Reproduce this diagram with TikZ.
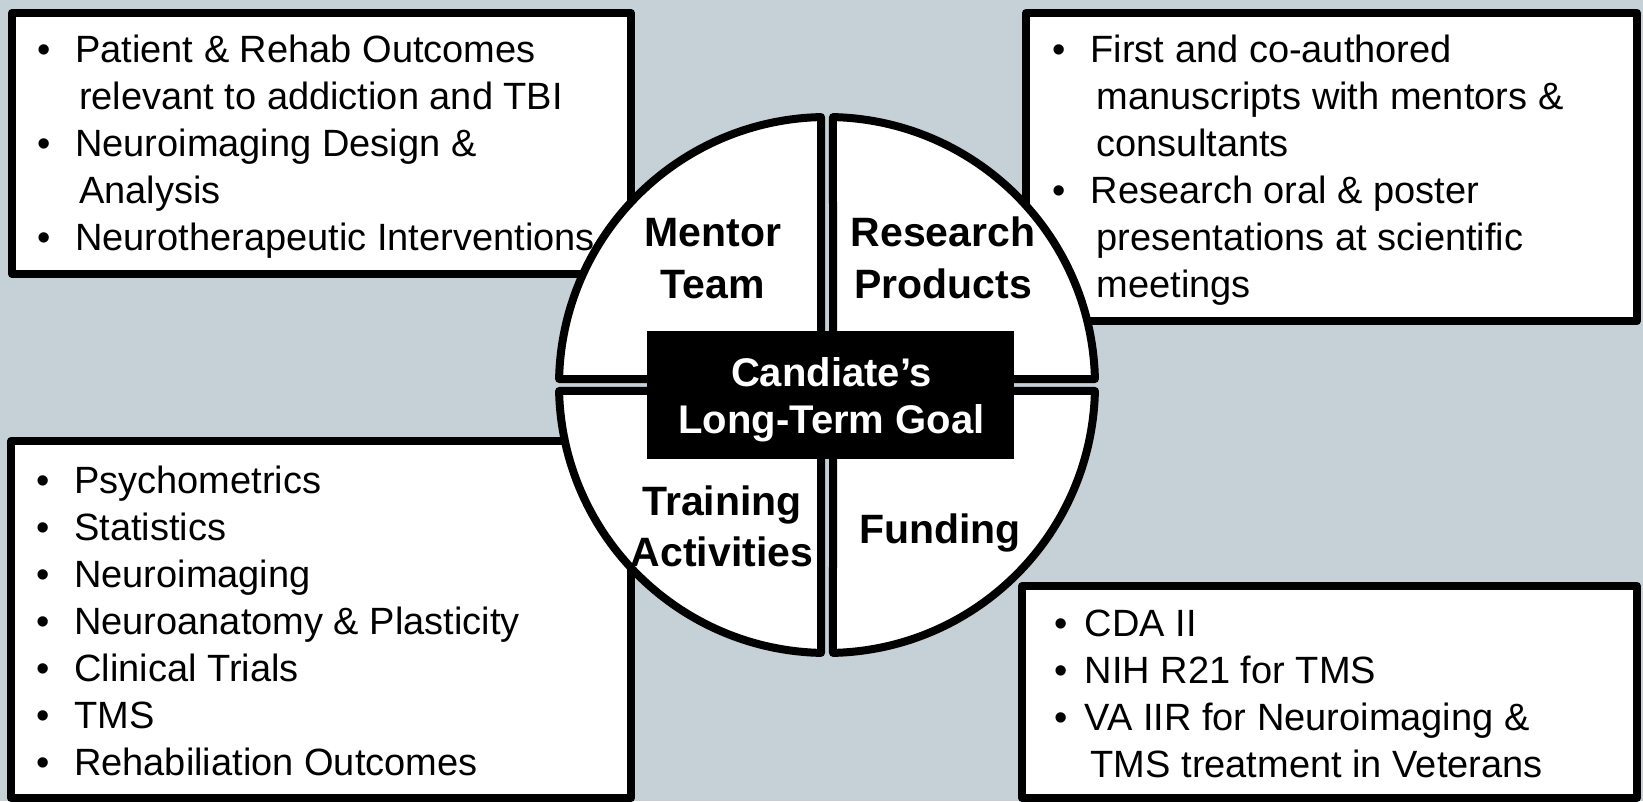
\documentclass[tikz,border=0pt]{standalone}
\usepackage{fontspec}
\setmainfont{Liberation Sans}
\usepackage{tikz}
\usetikzlibrary{calc}
\definecolor{SlateMist}{RGB}{197,208,215}
\newcommand{\itm}[1][38pt]{\makebox[#1][l]{\textbullet}}

\begin{document}
\begin{tikzpicture}[x=1pt,y=1pt,
    listbox/.style={draw=black,line width=8pt,fill=white,line join=round},
    listtext/.style={inner sep=0pt,anchor=base west,font=\fontsize{38}{47}\selectfont},
    quad/.style={draw=black,line width=8pt,fill=white,line join=round},
    quadlabel/.style={inner sep=0pt,anchor=base,font=\bfseries\fontsize{41}{51.5}\selectfont},
    goalbox/.style={fill=black,inner sep=0pt,minimum width=367pt,minimum height=128pt},
    goaltext/.style={inner sep=0pt,anchor=base,text=white,font=\bfseries\fontsize{40}{47}\selectfont}]
  \fill[SlateMist] (0,0) rectangle (1643,801);
  \useasboundingbox (0,0) rectangle (1643,801);

  \draw[listbox] (12,788) rectangle (631,527);
  \draw[listbox] (1026,788) rectangle (1637,480);
  \draw[listbox] (11,360) rectangle (631,3);
  \draw[listbox] (1022,215) rectangle (1637,3);

  \node[listtext] (mentorlist) at (37,738) {\begin{tabular}[t]{@{}l@{}}
    \itm Patient \& Rehab Outcomes\\
    \hspace{42pt}relevant to addiction and TBI\\
    \itm Neuroimaging Design \&\\
    \hspace{42pt}Analysis\\
    \itm Neurotherapeutic Interventions
  \end{tabular}};
  \node[listtext] (productlist) at (1052.5,738) {\begin{tabular}[t]{@{}l@{}}
    \itm First and co-authored\\
    \hspace{44pt}manuscripts with mentors \&\\
    \hspace{44pt}consultants\\
    \itm Research oral \& poster\\
    \hspace{44pt}presentations at scientific\\
    \hspace{44pt}meetings
  \end{tabular}};
  \node[listtext] (traininglist) at (36,307.5) {\begin{tabular}[t]{@{}l@{}}
    \itm Psychometrics\\
    \itm Statistics\\
    \itm Neuroimaging\\
    \itm Neuroanatomy \& Plasticity\\
    \itm Clinical Trials\\
    \itm TMS\\
    \itm Rehabiliation Outcomes
  \end{tabular}};
  \node[listtext] (fundinglist) at (1054.5,165) {\begin{tabular}[t]{@{}l@{}}
    \itm[30pt]CDA II\\
    \itm[30pt]NIH R21 for TMS\\
    \itm[30pt]VA IIR for Neuroimaging \&\\
    \hspace{36pt}TMS treatment in Veterans
  \end{tabular}};

  \coordinate (C) at (827,416);
  \foreach \a in {0,90,180,270}
    \draw[quad,shift={(C)},rotate=\a] (6,6) -- (88.72:268)
      arc[start angle=88.72,end angle=1.28,radius=268] -- cycle;

  \node[goalbox] (goal) at (830.5,406) {};
  \node[goaltext] (goallabel) at (831.5,414.5) {\begin{tabular}[t]{@{}c@{}}
    Candiate’s\\Long-Term Goal\end{tabular}};

  \node[quadlabel] (mentor) at (713,554) {\begin{tabular}[t]{@{}c@{}}Mentor\\Team\end{tabular}};
  \node[quadlabel] (research) at (943,554) {\begin{tabular}[t]{@{}c@{}}Research\\Products\end{tabular}};
  \node[quadlabel] (training) at (722,285.5) {\begin{tabular}[t]{@{}c@{}}Training\\Activities\end{tabular}};
  \node[quadlabel] (funding) at (940,258) {Funding};
\end{tikzpicture}
\end{document}
